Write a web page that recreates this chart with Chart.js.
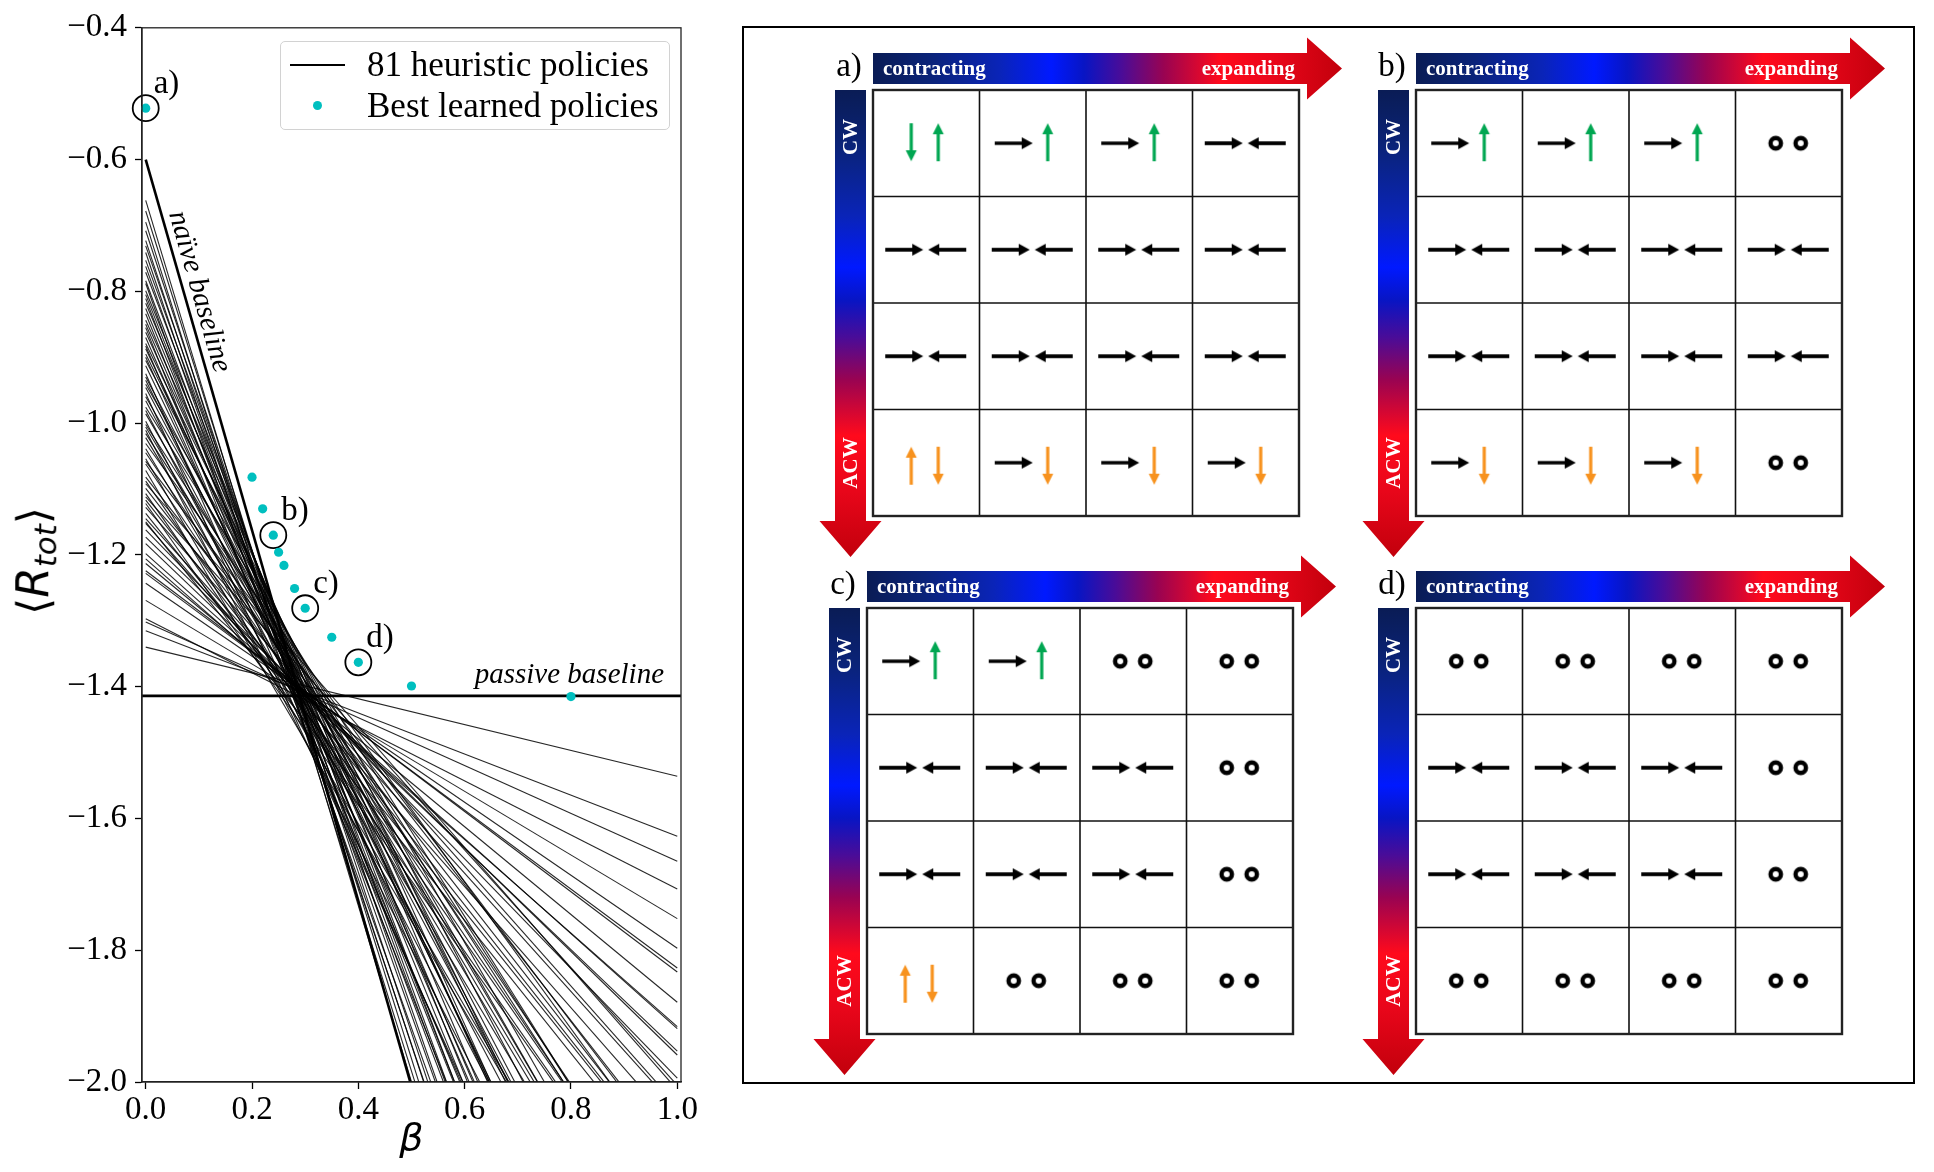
<!DOCTYPE html>
<html>
<head>
<meta charset="utf-8">
<script src="https://cdn.jsdelivr.net/npm/chart.js@4.4.1/dist/chart.umd.min.js"></script>
<style>
html,body{margin:0;padding:0;background:#fff;}
body{width:1934px;height:1172px;position:relative;overflow:hidden;font-family:'Liberation Serif',serif;}
canvas{position:absolute;}
#frame{position:absolute;left:742px;top:26px;width:1173px;height:1058px;box-sizing:border-box;border:2px solid #000;}
#legend{position:absolute;left:280px;top:41px;width:390px;height:89px;box-sizing:border-box;border:1.5px solid #d2d2d2;border-radius:5px;background:rgba(255,255,255,0.9);}
#legend .sw{position:absolute;}
#legend .tx{position:absolute;left:86px;font-family:'Liberation Serif';font-size:35px;line-height:35px;white-space:nowrap;color:#000;}
#ylab{position:absolute;left:36px;top:561px;transform:translate(-50%,-50%) rotate(-90deg);font-family:'DejaVu Sans';font-size:44px;white-space:nowrap;color:#000;line-height:1;}
#ylab sub{font-size:0.7em;vertical-align:-0.25em;}
</style>
</head>
<body>
<div id="frame"></div>
<canvas id="left" width="742" height="1172" style="left:0;top:0"></canvas>
<div id="legend">
  <div class="sw" style="left:9px;top:21.5px;width:55px;height:2.6px;background:#000"></div>
  <div class="tx" id="lg0" style="top:5px"></div>
  <div class="sw" id="lgdot" style="left:32px;top:59px;width:9px;height:9px;border-radius:50%;"></div>
  <div class="tx" id="lg1" style="top:46px"></div>
</div>
<div id="ylab">⟨<i>R</i><sub><i>tot</i></sub>⟩</div>
<canvas id="pa" width="560" height="560"></canvas>
<canvas id="pb" width="560" height="560"></canvas>
<canvas id="pc" width="560" height="560"></canvas>
<canvas id="pd" width="560" height="560"></canvas>
<script>
// ---------------- DATA ----------------
const betaTicks = [0.0, 0.2, 0.4, 0.6, 0.8, 1.0];
const rTicks = [-2.0, -1.8, -1.6, -1.4, -1.2, -1.0, -0.8, -0.6, -0.4];
const seriesNames = ['81 heuristic policies', 'Best learned policies'];

// 81 heuristic policies: <R_tot> at beta = 0 and at beta = 1 (straight lines)
const heurBeta = [0, 1];
const heurR0 = [
 -0.662,-0.678,-0.695,-0.708,-0.723,-0.731,-0.741,-0.753,-0.762,-0.771,
 -0.784,-0.788,-0.799,-0.805,-0.811,-0.818,-0.826,-0.834,-0.844,-0.850,
 -0.855,-0.862,-0.870,-0.879,-0.883,-0.887,-0.895,-0.900,-0.905,-0.913,
 -0.925,-0.930,-0.935,-0.941,-0.946,-0.955,-0.960,-0.966,-0.976,-0.981,
 -0.986,-0.997,-1.002,-1.006,-1.011,-1.016,-1.022,-1.031,-1.039,-1.045,
 -1.054,-1.058,-1.062,-1.072,-1.082,-1.088,-1.092,-1.099,-1.107,-1.112,
 -1.117,-1.122,-1.128,-1.137,-1.145,-1.150,-1.152,-1.162,-1.173,-1.183,
 -1.198,-1.206,-1.213,-1.224,-1.228,-1.243,-1.269,-1.297,-1.302,-1.315,-1.340];
const heurR1 = [
 -3.338,-3.251,-3.272,-3.142,-3.165,-3.046,-3.145,-2.956,-3.034,-2.886,
 -2.942,-3.048,-2.783,-2.862,-2.934,-2.710,-2.793,-2.848,-2.625,-2.718,
 -2.880,-2.631,-2.727,-2.525,-2.773,-2.609,-2.527,-2.679,-2.447,-2.594,
 -2.736,-2.471,-2.575,-2.353,-2.480,-2.707,-2.370,-2.480,-2.264,-2.506,
 -2.362,-2.553,-2.258,-2.366,-2.585,-2.268,-2.374,-2.141,-2.388,-2.243,
 -2.439,-2.121,-2.255,-2.440,-2.113,-2.252,-2.012,-2.132,-2.265,-2.005,
 -2.141,-2.267,-2.036,-2.144,-2.042,-2.158,-2.071,-1.994,-1.959,-1.953,
 -1.919,-1.916,-1.879,-1.833,-1.827,-1.797,-1.752,-1.707,-1.665,-1.627,-1.536];

const naiveBeta = [0, 1];
const naiveR = [-0.600, -3.413];
const passiveBeta = [-0.05, 1.05];
const passiveR = [-1.414, -1.414];

const learnedBeta = [0.00, 0.20, 0.22, 0.24, 0.25, 0.26, 0.28, 0.30, 0.35, 0.40, 0.50, 0.80];
const learnedR    = [-0.522, -1.082, -1.130, -1.170, -1.196, -1.216, -1.251, -1.281, -1.325, -1.363, -1.399, -1.415];
const highlightIdx = [0, 3, 7, 9];
const highlightLabels = ['a)', 'b)', 'c)', 'd)'];

const naiveLabel = 'naïve baseline';
const passiveLabel = 'passive baseline';

// Policy tables (rows: CW -> ACW, columns: contracting -> expanding)
// RL: converge, RU: right + up, RD: right + down, DU: down + up, UD: up + down, OO: two idle rings
const panelLabels = ['a)', 'b)', 'c)', 'd)'];
const panelA = [['DU','RU','RU','RL'],['RL','RL','RL','RL'],['RL','RL','RL','RL'],['UD','RD','RD','RD']];
const panelB = [['RU','RU','RU','OO'],['RL','RL','RL','RL'],['RL','RL','RL','RL'],['RD','RD','RD','OO']];
const panelC = [['RU','RU','OO','OO'],['RL','RL','RL','OO'],['RL','RL','RL','OO'],['UD','OO','OO','OO']];
const panelD = [['OO','OO','OO','OO'],['RL','RL','RL','OO'],['RL','RL','RL','OO'],['OO','OO','OO','OO']];
const axisWords = ['contracting', 'expanding', 'CW', 'ACW'];

// ---------------- LEFT CHART ----------------
const CYAN = '#00bfbf';
document.getElementById('lg0').textContent = seriesNames[0];
document.getElementById('lg1').textContent = seriesNames[1];
document.getElementById('lgdot').style.background = CYAN;

const fmt = v => (v < -1e-9 ? '\u2212' : '') + Math.abs(v).toFixed(1);

const datasets = [];
datasets.push({
  label: seriesNames[1], order: 0, clip: false,
  data: learnedBeta.map((b, i) => ({x: b, y: learnedR[i]})),
  pointRadius: 4.6, pointBackgroundColor: CYAN, pointBorderWidth: 0, showLine: false
});
datasets.push({
  label: 'selected', order: 1, clip: false,
  data: highlightIdx.map(i => ({x: learnedBeta[i], y: learnedR[i]})),
  pointRadius: 13, pointBackgroundColor: 'rgba(0,0,0,0)', pointBorderColor: '#000', pointBorderWidth: 1.8, showLine: false
});
datasets.push({
  label: 'naive', order: 2,
  data: naiveBeta.map((b, i) => ({x: b, y: naiveR[i]})),
  showLine: true, borderColor: '#000', borderWidth: 2.6, pointRadius: 0
});
datasets.push({
  label: 'passive', order: 2,
  data: passiveBeta.map((b, i) => ({x: b, y: passiveR[i]})),
  showLine: true, borderColor: '#000', borderWidth: 2.8, pointRadius: 0
});
heurR0.forEach((r0, i) => {
  datasets.push({
    label: i === 0 ? seriesNames[0] : '', order: 3,
    data: [{x: heurBeta[0], y: r0}, {x: heurBeta[1], y: heurR1[i]}],
    showLine: true, borderColor: 'rgba(0,0,0,0.85)', borderWidth: 1.1, pointRadius: 0
  });
});

const leftDecor = {
  id: 'leftDecor',
  afterDatasetsDraw(chart) {
    const {ctx, chartArea: a, scales: {x, y}} = chart;
    ctx.save();
    ctx.strokeStyle = '#222'; ctx.lineWidth = 1.3;
    ctx.strokeRect(a.left, a.top, a.right - a.left, a.bottom - a.top);
    ctx.fillStyle = '#000';
    ctx.font = '33px "Liberation Serif"';
    ctx.textAlign = 'left'; ctx.textBaseline = 'middle';
    highlightIdx.forEach((idx, k) => {
      const px = x.getPixelForValue(learnedBeta[idx]);
      const py = y.getPixelForValue(learnedR[idx]);
      ctx.fillText(highlightLabels[k], px + 8, py - 24);
    });
    const p0 = {x: x.getPixelForValue(naiveBeta[0]), y: y.getPixelForValue(naiveR[0])};
    const p1 = {x: x.getPixelForValue(naiveBeta[1]), y: y.getPixelForValue(naiveR[1])};
    const ang = Math.atan2(p1.y - p0.y, p1.x - p0.x);
    const t = 0.0735;
    const ax = p0.x + (p1.x - p0.x) * t, ay = p0.y + (p1.y - p0.y) * t;
    const off = 15;
    ctx.save();
    ctx.translate(ax + Math.sin(ang) * off, ay - Math.cos(ang) * off);
    ctx.rotate(ang);
    ctx.font = 'italic 29px "Liberation Serif"';
    ctx.textAlign = 'center'; ctx.textBaseline = 'middle';
    ctx.fillText(naiveLabel, 0, 0);
    ctx.restore();
    ctx.font = 'italic 29px "Liberation Serif"';
    ctx.textAlign = 'center'; ctx.textBaseline = 'middle';
    ctx.fillText(passiveLabel, x.getPixelForValue(0.797), y.getPixelForValue(passiveR[0]) - 21);
    ctx.restore();
  }
};

new Chart(document.getElementById('left'), {
  type: 'scatter',
  data: {datasets},
  options: {
    responsive: false, animation: false, devicePixelRatio: 1, events: [],
    layout: {padding: {left: 0, top: 27, right: 61, bottom: 0}},
    plugins: {legend: {display: false}, tooltip: {enabled: false}},
    elements: {line: {tension: 0}},
    scales: {
      x: {
        type: 'linear', min: -0.007, max: 1.007,
        afterBuildTicks: s => { s.ticks = betaTicks.map(v => ({value: v})); },
        afterFit: s => { s.height = 90; },
        ticks: {font: {family: 'Liberation Serif', size: 33}, color: '#000', padding: 2, maxRotation: 0, autoSkip: false, callback: v => fmt(v)},
        grid: {drawOnChartArea: false, tickLength: 7, tickWidth: 1.3, tickColor: '#000'},
        border: {color: '#222', width: 1.3},
        title: {display: true, text: 'β', color: '#000', font: {family: 'DejaVu Sans', size: 38, style: 'italic'}, padding: {top: 0, bottom: 9}}
      },
      y: {
        type: 'linear', min: -2.0, max: -0.4,
        afterBuildTicks: s => { s.ticks = rTicks.map(v => ({value: v})); },
        afterFit: s => { s.width = 142; },
        ticks: {font: {family: 'Liberation Serif', size: 33}, color: '#000', padding: 8, autoSkip: false, callback: v => fmt(v)},
        grid: {drawOnChartArea: false, tickLength: 7, tickWidth: 1.3, tickColor: '#000'},
        border: {color: '#222', width: 1.3}
      }
    }
  },
  plugins: [leftDecor]
});

// ---------------- RIGHT PANELS ----------------
const BLACK = '#000', GREEN = '#00a651', ORANGE = '#f7921e';
const CELL = 106;
function arrowH(g, x0, x1, y, col, w) {
  const dir = Math.sign(x1 - x0), hl = 11, hw = 6;
  g.strokeStyle = col; g.fillStyle = col; g.lineWidth = w; g.lineCap = 'butt';
  g.beginPath(); g.moveTo(x0, y); g.lineTo(x1 - dir * (hl - 1), y); g.stroke();
  g.beginPath(); g.moveTo(x1, y); g.lineTo(x1 - dir * hl, y - hw); g.lineTo(x1 - dir * hl, y + hw); g.closePath(); g.fill();
}
function arrowV(g, x, y0, y1, col, w) {
  const dir = Math.sign(y1 - y0), hl = 11, hw = 5.5;
  g.strokeStyle = col; g.fillStyle = col; g.lineWidth = w; g.lineCap = 'butt';
  g.beginPath(); g.moveTo(x, y0); g.lineTo(x, y1 - dir * (hl - 1)); g.stroke();
  g.beginPath(); g.moveTo(x, y1); g.lineTo(x - hw, y1 - dir * hl); g.lineTo(x + hw, y1 - dir * hl); g.closePath(); g.fill();
}
function ring(g, x, y) {
  g.strokeStyle = BLACK; g.lineWidth = 4.4;
  g.beginPath(); g.arc(x, y, 5.2, 0, Math.PI * 2); g.stroke();
}
function makeGlyph(code) {
  const c = document.createElement('canvas'); c.width = CELL; c.height = CELL;
  const g = c.getContext('2d');
  const m = CELL / 2;
  if (code === 'RL') { arrowH(g, 12, 50, m, BLACK, 3.8); arrowH(g, 93, 55, m, BLACK, 3.8); }
  if (code === 'RU') { arrowH(g, 15, 53, m, BLACK, 3.4); arrowV(g, 68, 71, 33, GREEN, 3.2); }
  if (code === 'RD') { arrowH(g, 15, 53, m, BLACK, 3.4); arrowV(g, 68, 37, 75, ORANGE, 3.2); }
  if (code === 'DU') { arrowV(g, 38, 33, 71, GREEN, 3.2); arrowV(g, 65, 71, 33, GREEN, 3.2); }
  if (code === 'UD') { arrowV(g, 38, 75, 37, ORANGE, 3.2); arrowV(g, 65, 37, 75, ORANGE, 3.2); }
  if (code === 'OO') { ring(g, 40, m); ring(g, 65, m); }
  return c;
}
const glyphCodes = ['RL', 'RU', 'RD', 'DU', 'UD', 'OO'];
const glyphImg = {};
glyphCodes.forEach(c => glyphImg[c] = makeGlyph(c));

const gradStops = [[0, '#0a1c55'], [0.12, '#0a2378'], [0.27, '#0a24b8'], [0.38, '#0019ff'], [0.45, '#0815c4'],
  [0.53, '#4a0c98'], [0.62, '#990352'], [0.74, '#ff0a1c'], [0.86, '#e8061a'], [1, '#c2000c']];
function grad(ctx, x0, y0, x1, y1) {
  const g = ctx.createLinearGradient(x0, y0, x1, y1);
  gradStops.forEach(([o, c]) => g.addColorStop(o, c));
  return g;
}

const panelDecor = {
  id: 'panelDecor',
  beforeDatasetsDraw(chart, args, opts) {
    const {ctx, chartArea: a, scales: {x, y}} = chart;
    ctx.save();
    ctx.strokeStyle = '#111'; ctx.lineWidth = 1.6;
    for (let i = 1; i < 4; i++) {
      const px = x.getPixelForValue(i), py = y.getPixelForValue(i);
      ctx.beginPath(); ctx.moveTo(px, a.top); ctx.lineTo(px, a.bottom); ctx.stroke();
      ctx.beginPath(); ctx.moveTo(a.left, py); ctx.lineTo(a.right, py); ctx.stroke();
    }
    ctx.strokeStyle = '#222'; ctx.lineWidth = 2.4;
    ctx.strokeRect(a.left, a.top, a.right - a.left, a.bottom - a.top);
    ctx.restore();
  },
  afterDraw(chart, args, opts) {
    const {ctx, chartArea: a} = chart;
    const gx = a.left, gy = a.top;
    ctx.save();
    const cy = gy - 21.5, hb = gx + 434, tip = gx + 469;
    ctx.beginPath();
    ctx.moveTo(gx, cy - 15.5); ctx.lineTo(hb, cy - 15.5); ctx.lineTo(hb, cy - 31); ctx.lineTo(tip, cy);
    ctx.lineTo(hb, cy + 31); ctx.lineTo(hb, cy + 15.5); ctx.lineTo(gx, cy + 15.5); ctx.closePath();
    ctx.fillStyle = grad(ctx, gx, 0, tip, 0); ctx.fill();
    const cx = gx - 22.5, vb = gy + 431, vtip = gy + 467;
    ctx.beginPath();
    ctx.moveTo(cx - 15.5, gy); ctx.lineTo(cx - 15.5, vb); ctx.lineTo(cx - 31, vb); ctx.lineTo(cx, vtip);
    ctx.lineTo(cx + 31, vb); ctx.lineTo(cx + 15.5, vb); ctx.lineTo(cx + 15.5, gy); ctx.closePath();
    ctx.fillStyle = grad(ctx, 0, gy, 0, vtip); ctx.fill();
    ctx.fillStyle = '#fff';
    ctx.font = 'bold 21px "Liberation Serif"';
    ctx.textBaseline = 'middle';
    ctx.textAlign = 'left'; ctx.fillText(axisWords[0], gx + 10, cy + 1);
    ctx.textAlign = 'right'; ctx.fillText(axisWords[1], gx + 422, cy + 1);
    ctx.textAlign = 'center';
    ctx.save(); ctx.translate(cx + 1, gy + 47); ctx.rotate(-Math.PI / 2); ctx.fillText(axisWords[2], 0, 0); ctx.restore();
    ctx.save(); ctx.translate(cx + 1, gy + 373); ctx.rotate(-Math.PI / 2); ctx.fillText(axisWords[3], 0, 0); ctx.restore();
    ctx.fillStyle = '#000';
    ctx.font = '33px "Liberation Serif"';
    ctx.textAlign = 'center'; ctx.textBaseline = 'middle';
    ctx.fillText(opts.label, gx - 24, gy - 23);
    ctx.restore();
  }
};

function makePanel(id, grid, label, gx, gy) {
  const cv = document.getElementById(id);
  const L = 75, T = 65, S = 426;
  cv.style.left = (gx - L) + 'px';
  cv.style.top = (gy - T) + 'px';
  const ds = glyphCodes.map(code => ({
    data: grid.flatMap((row, r) => row.map((c, k) => c === code ? {x: k + 0.5, y: r + 0.5} : null)).filter(Boolean),
    pointStyle: glyphImg[code], pointRadius: 20, showLine: false, clip: false
  })).filter(d => d.data.length);
  new Chart(cv, {
    type: 'scatter',
    data: {datasets: ds},
    options: {
      responsive: false, animation: false, devicePixelRatio: 1, events: [],
      layout: {padding: {left: L, top: T, right: 560 - L - S, bottom: 560 - T - S}},
      plugins: {legend: {display: false}, tooltip: {enabled: false}, panelDecor: {label}},
      scales: {
        x: {type: 'linear', min: 0, max: 4, display: false},
        y: {type: 'linear', min: 0, max: 4, reverse: true, display: false}
      }
    },
    plugins: [panelDecor]
  });
}
makePanel('pa', panelA, panelLabels[0], 873, 90);
makePanel('pb', panelB, panelLabels[1], 1416, 90);
makePanel('pc', panelC, panelLabels[2], 867, 608);
makePanel('pd', panelD, panelLabels[3], 1416, 608);
</script>
</body>
</html>
